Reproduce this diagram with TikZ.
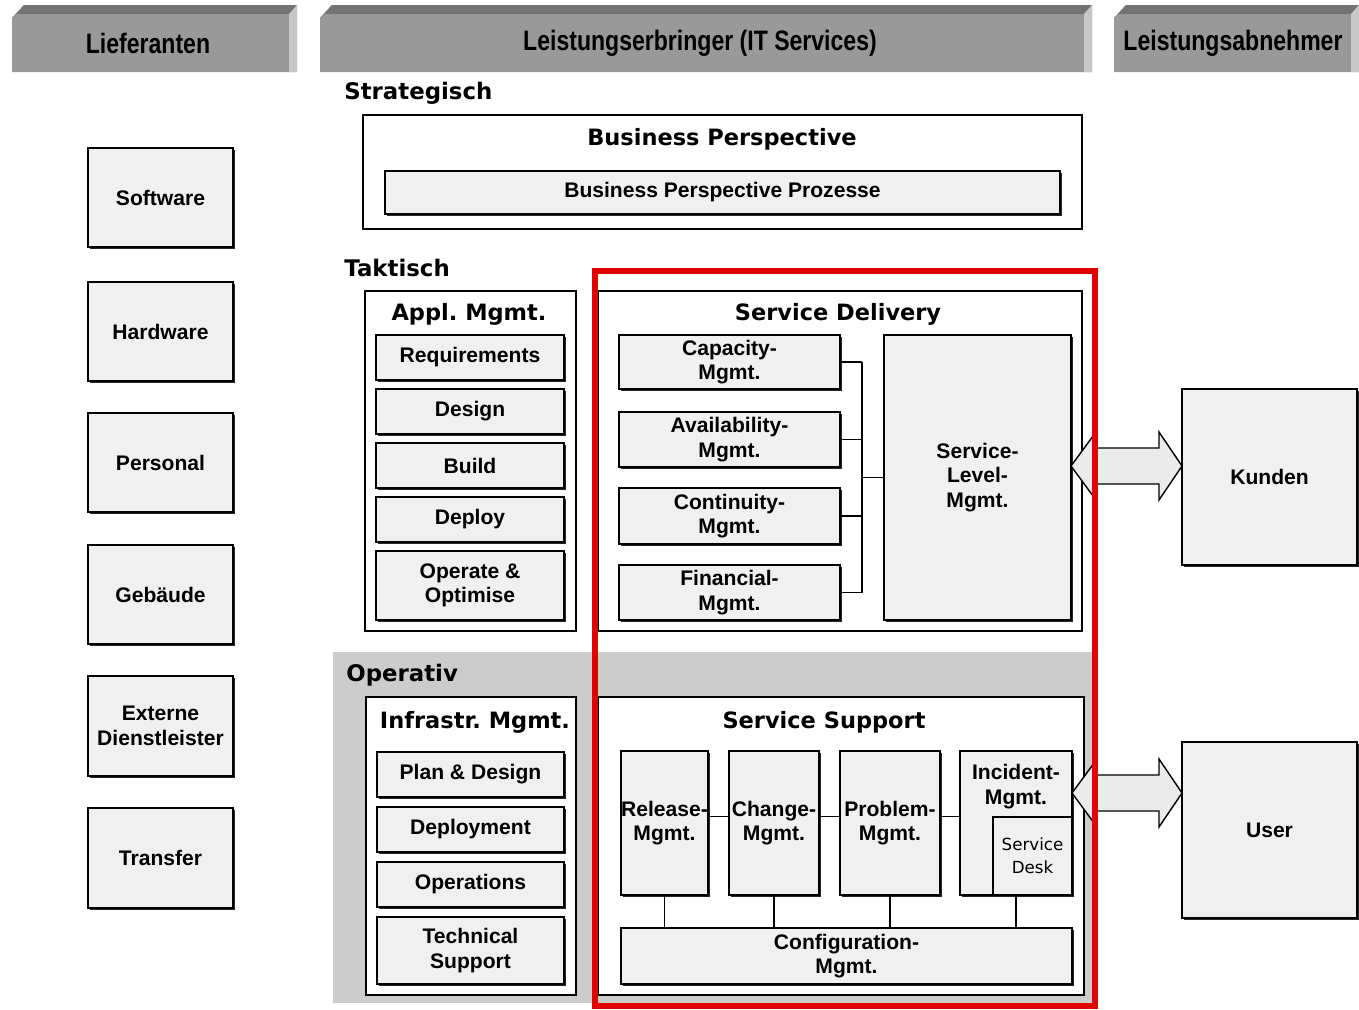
\documentclass[tikz,border=0pt]{standalone}
\usepackage{fontspec}
\setmainfont{Liberation Sans}
\newfontfamily\hdfont{Liberation Sans}[FakeStretch=0.82]
\newfontfamily\ttlfont{DejaVu Sans}
\usetikzlibrary{positioning,shadows,calc}
\definecolor{hilite}{RGB}{226,0,0}

\begin{document}
\begin{tikzpicture}[x=0.02cm,y=-0.02cm,
  sz/.style 2 args={minimum width=#1*0.02cm,minimum height=#2*0.02cm},
  box/.style={draw,line width=0.9pt,fill=black!6,inner sep=0pt,align=center,
    font=\fontsize{12}{14}\selectfont\bfseries,
    drop shadow={shadow xshift=0.9pt,shadow yshift=-0.9pt,opacity=1,fill=black!85}},
  panel/.style={draw,line width=0.8pt,fill=white,inner sep=0pt},
  lbl/.style={inner sep=0pt,align=center,font=\fontsize{12}{14}\selectfont\bfseries},
  ttl/.style={inner sep=0pt,font=\ttlfont\fontsize{12.8}{15}\selectfont\bfseries},
  lvl/.style={anchor=west,inner sep=0pt,font=\ttlfont\fontsize{13}{15}\selectfont\bfseries},
  hd/.style={inner sep=0pt,font=\hdfont\fontsize{16}{18}\selectfont\bfseries},
  conn/.style={line width=0.8pt},
  blockarr/.style={draw,line width=0.8pt,fill=black!8,line join=miter}]
\useasboundingbox (0,0) rectangle (1359,1009);

% header bars
\foreach \xa/\xb in {12/297,320/1092,1114/1359} {
  \fill[black!40] (\xa,18) -- (\xa+12,5) -- (\xb,5) -- (\xb,72) -- (\xa,72) -- cycle;
  \fill[black!55] (\xa,18) -- (\xa+12,5) -- (\xb,5) -- (\xb-8,14) -- (\xa+4,14) -- cycle;
  \fill[black!22] (\xb-8,14) -- (\xb,5) -- (\xb,72) -- (\xb-8,72) -- cycle;
}
\node[hd] (lief) at (148,43) {Lieferanten};
\node[hd] (leist) at (700,43) {Leistungserbringer (IT Services)};
\node[hd] (abn) at (1233,43) {Leistungsabnehmer};

% Lieferanten
\node[box,sz={145}{99}] (soft) at (160.5,197.5) {Software};
\node[box,sz={145}{99}] (hard) at (160.5,331.5) {Hardware};
\node[box,sz={145}{99}] (pers) at (160.5,462.5) {Personal};
\node[box,sz={145}{99}] (geb) at (160.5,594.5) {Gebäude};
\node[box,sz={145}{100}] (ext) at (160.5,726) {Externe\\Dienstleister};
\node[box,sz={145}{100}] (trans) at (160.5,858) {Transfer};

% strategisch
\node[lvl] (strat) at (344,93) {Strategisch};
\node[panel,sz={719}{114}] (bp) at (722.5,172) {};
\node[ttl] (bpT) at (722,139) {Business Perspective};
\node[box,sz={675}{43}] (bpp) at (722.5,192.5) {Business Perspective Prozesse};

% taktisch
\node[lvl] (takt) at (344,268) {Taktisch};
\node[panel,sz={211}{340}] (appl) at (470.5,461) {};
\node[ttl] (applT) at (469,314) {Appl.\ Mgmt.};
\node[box,sz={188}{45}] (req) at (470,357.5) {Requirements};
\node[box,sz={188}{45}] (des) at (470,411.5) {Design};
\node[box,sz={188}{45}] (bld) at (470,465.5) {Build};
\node[box,sz={188}{45}] (dep) at (470,519.5) {Deploy};
\node[box,sz={188}{69}] (opt) at (470,585.5) {Operate \&\\Optimise};

\node[panel,sz={484}{340}] (sd) at (840,461) {};
\node[ttl] (sdT) at (838,314) {Service Delivery};
\node[box,sz={221}{54}] (cap) at (729.5,362) {Capacity-\\Mgmt.};
\node[box,sz={221}{55}] (avl) at (729.5,439.5) {Availability-\\Mgmt.};
\node[box,sz={221}{56}] (cont) at (729.5,516) {Continuity-\\Mgmt.};
\node[box,sz={221}{55}] (fin) at (729.5,592.5) {Financial-\\Mgmt.};
\node[box,sz={187}{285}] (slm) at (977.5,477.5) {Service-\\Level-\\Mgmt.};
\coordinate (busx) at (862,0);
\foreach \n in {cap,avl,cont,fin}
  \draw[conn] (\n.east) -- (\n.east -| busx);
\draw[conn] (cap.east -| busx) -- (fin.east -| busx);
\draw[conn] (slm.west -| busx) -- (slm.west);

% operativ
\fill[black!20] (333,652) rectangle (1092,1003);
\node[lvl] (oper) at (346,675) {Operativ};
\node[panel,sz={210}{298}] (infra) at (471,846) {};
\node[ttl] (infraT) at (475,722) {Infrastr.\ Mgmt.};
\node[box,sz={187}{45}] (plan) at (470.5,774.5) {Plan \& Design};
\node[box,sz={187}{45}] (dpl) at (470.5,829.5) {Deployment};
\node[box,sz={187}{45}] (ops) at (470.5,884.5) {Operations};
\node[box,sz={187}{67}] (tech) at (470.5,950.5) {Technical\\Support};

\node[panel,sz={486}{298}] (ss) at (841,846) {};
\node[ttl] (ssT) at (824,722) {Service Support};
\node[box,sz={87}{144}] (rel) at (664.5,823) {Release-\\Mgmt.};
\node[box,sz={90}{144}] (chg) at (774,823) {Change-\\Mgmt.};
\node[box,sz={100}{144}] (prob) at (890,823) {Problem-\\Mgmt.};
\node[box,sz={112}{144}] (inc) at (1016,823) {};
\node[lbl,below=8pt of inc.north] (incT) {Incident-\\Mgmt.};
\node[box,sz={79}{78},font=\ttlfont\fontsize{9.5}{13}\selectfont] (desk) at (1032.5,856) {Service\\Desk};
\node[box,sz={451}{56}] (conf) at (846.5,956) {Configuration-\\Mgmt.};
\draw[conn] (rel.east |- desk.north) -- (chg.west |- desk.north);
\draw[conn] (chg.east |- desk.north) -- (prob.west |- desk.north);
\draw[conn] (prob.east |- desk.north) -- (inc.west |- desk.north);
\foreach \n in {rel,chg,prob,inc}
  \draw[conn] (\n.south) -- (\n.south |- conf.north);

% Leistungsabnehmer
\node[box,sz={175}{176}] (kund) at (1269.5,477) {Kunden};
\node[box,sz={175}{176}] (user) at (1269.5,830) {User};
\coordinate (ka) at (1071,466);
\coordinate (ua) at (1072,793);
\draw[blockarr] (ka) -- ++(25,-34) -- ++(0,16) -- ++(63,0) -- ++(0,-16) -- ++(23,34)
  -- ++(-23,34) -- ++(0,-16) -- ++(-63,0) -- ++(0,16) -- cycle;
\draw[blockarr] (ua) -- ++(25,-34) -- ++(0,16) -- ++(62,0) -- ++(0,-16) -- ++(23,34)
  -- ++(-23,34) -- ++(0,-16) -- ++(-62,0) -- ++(0,16) -- cycle;

\draw[hilite,line width=3.4pt] (595,271) rectangle (1095,1006);
\end{tikzpicture}
\end{document}
